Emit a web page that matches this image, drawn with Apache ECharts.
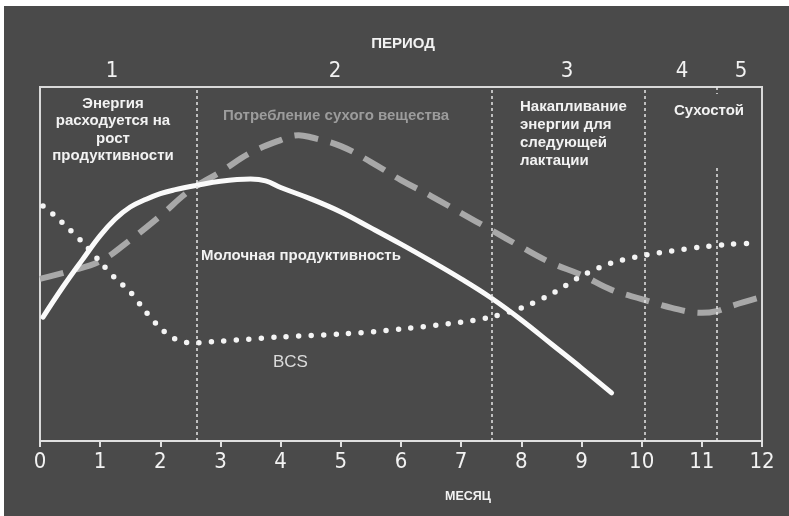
<!DOCTYPE html>
<html>
<head>
<meta charset="utf-8">
<script src="https://cdn.jsdelivr.net/npm/echarts@6/dist/echarts.min.js"></script>
<style>
  html, body { margin: 0; padding: 0; background: #fff; }
  #chart { width: 789px; height: 516px; }
</style>
</head>
<body>
<div id="chart"></div>
<script>
// months on x, relative level (0..100) on y
const monthTicks = [0, 1, 2, 3, 4, 5, 6, 7, 8, 9, 10, 11, 12]

const milkMonths = [0.05, 0.38, 0.7, 1, 1.25, 1.5, 1.75, 2, 2.25, 2.6, 3, 3.5, 3.75, 4, 4.5, 5, 5.5, 6, 6.5, 7, 7.5, 8, 8.5, 9, 9.5]
const milkValues = [35.0, 43.5, 51.1, 58.0, 62.7, 66.1, 68.2, 69.9, 71.0, 72.2, 73.4, 74.0, 73.5, 71.6, 68.4, 64.7, 60.2, 55.6, 50.8, 45.8, 40.4, 34.2, 27.4, 20.6, 13.6]

const dmiMonths = [0, 0.5, 1, 1.5, 2, 2.5, 3, 3.5, 4, 4.3, 4.5, 5, 5.5, 6, 6.5, 7, 7.5, 8, 8.5, 9, 9.5, 10, 10.5, 11, 11.25, 11.5, 12]
const dmiValues = [45.8, 48.0, 50.8, 56.8, 63.6, 70.9, 76.0, 81.4, 85.0, 86.4, 85.8, 83.3, 78.8, 73.7, 69.2, 64.4, 59.6, 54.8, 50.3, 46.9, 42.7, 40.1, 37.6, 36.2, 36.7, 38.2, 40.7]

const bcsMonths = [0.05, 0.25, 0.5, 0.75, 1, 1.25, 1.5, 1.75, 2, 2.25, 2.5, 3, 4, 5, 6, 7, 7.5, 8, 8.5, 9, 9.5, 10, 10.5, 11, 11.5, 11.85]
const bcsValues = [66.4, 63.6, 59.6, 55.4, 50.6, 46.0, 42.1, 36.7, 31.9, 28.8, 27.7, 28.2, 29.4, 30.2, 31.6, 33.6, 35.0, 37.6, 41.5, 46.6, 50.3, 52.3, 53.7, 54.8, 55.6, 55.9]

// period borders (months)
const periodBorders = [2.6, 7.5, 10.05]
const dryOffBorder = 11.25
const dryOffLineTop = 78
const periodLabels = ['1', '2', '3', '4', '5']

const bg = '#4a4a4a'
const fg = '#f2f2f2'
const boldFont = '"Liberation Sans", Arial, sans-serif'
const digitFont = '"DejaVu Sans Condensed", "DejaVu Sans", sans-serif'

const zip = (xs, ys) => xs.map((x, i) => [x, ys[i]])

const borderStyle = { color: '#e6e6e6', width: 1.5, type: [3, 3] }
const borderLines = periodBorders.map(m => ({ xAxis: m }))
borderLines.push([{ coord: [dryOffBorder, 0] }, { coord: [dryOffBorder, dryOffLineTop] }])
borderLines.push([{ coord: [dryOffBorder, 100] }, { coord: [dryOffBorder, 98] }])

const chart = echarts.init(document.getElementById('chart'))

const textStyleBold = (size, color) => ({ fontFamily: boldFont, fontWeight: 'bold', fontSize: size, fill: color })

chart.setOption({
  backgroundColor: bg,
  animation: false,
  grid: {
    left: 40,
    right: 27,
    top: 87,
    bottom: 75,
    show: true,
    borderColor: '#d9d9d9',
    borderWidth: 2,
    backgroundColor: 'transparent'
  },
  xAxis: {
    type: 'value',
    min: 0,
    max: 12,
    interval: 1,
    axisLine: { lineStyle: { color: '#e0e0e0', width: 2 } },
    axisTick: { length: 6, lineStyle: { color: '#e0e0e0', width: 2 } },
    axisLabel: {
      color: fg,
      fontFamily: digitFont,
      fontSize: 22,
      margin: 10,
      formatter: v => monthTicks.indexOf(v) >= 0 ? String(v) : ''
    },
    splitLine: { show: false }
  },
  yAxis: {
    type: 'value',
    min: 0,
    max: 100,
    show: false
  },
  series: [
    {
      name: 'Потребление сухого вещества',
      type: 'line',
      data: zip(dmiMonths, dmiValues),
      smooth: 0.4,
      symbol: 'none',
      lineStyle: { color: '#a8a8a8', width: 6, type: [24, 13], cap: 'butt' },
      z: 2,
      markLine: {
        silent: true,
        symbol: 'none',
        label: { show: false },
        lineStyle: borderStyle,
        data: borderLines
      }
    },
    {
      name: 'BCS',
      type: 'line',
      data: zip(bcsMonths, bcsValues),
      smooth: 0.3,
      symbol: 'none',
      lineStyle: { color: '#f4f4f4', width: 5.5, type: [0, 12.5], cap: 'round' },
      z: 3
    },
    {
      name: 'Молочная продуктивность',
      type: 'line',
      data: zip(milkMonths, milkValues),
      smooth: 0.4,
      symbol: 'none',
      lineStyle: { color: '#fafafa', width: 5, cap: 'round' },
      z: 4
    }
  ],
  graphic: [
    { type: 'rect', left: 0, top: 0, shape: { width: 789, height: 6 }, style: { fill: '#ffffff' } },
    { type: 'rect', left: 0, top: 0, shape: { width: 4, height: 516 }, style: { fill: '#ffffff' } },
    { type: 'text', x: 403, y: 44, style: Object.assign({ text: 'ПЕРИОД', align: 'center', verticalAlign: 'middle' }, textStyleBold(15, fg)) },
    { type: 'text', x: 468, y: 497, style: Object.assign({ text: 'МЕСЯЦ', align: 'center', verticalAlign: 'middle' }, textStyleBold(12.5, fg)) },
    ...[112, 335, 567, 682, 741].map((x, i) => ({
      type: 'text', x: x, y: 71,
      style: { text: periodLabels[i], align: 'center', verticalAlign: 'middle', fontFamily: digitFont, fontSize: 22, fill: fg }
    })),
    { type: 'text', x: 113, y: 130, style: Object.assign({ text: 'Энергия\nрасходуется на\nрост\nпродуктивности', align: 'center', verticalAlign: 'middle', lineHeight: 17.5 }, textStyleBold(15, fg)) },
    { type: 'text', x: 223, y: 116, style: Object.assign({ text: 'Потребление сухого вещества', align: 'left', verticalAlign: 'middle' }, textStyleBold(15, '#9c9c9c')) },
    { type: 'text', x: 201, y: 256, style: Object.assign({ text: 'Молочная продуктивность', align: 'left', verticalAlign: 'middle' }, textStyleBold(15, fg)) },
    { type: 'text', x: 273, y: 362, style: { text: 'BCS', align: 'left', verticalAlign: 'middle', fontFamily: boldFont, fontSize: 17, fill: '#dcdcdc' } },
    { type: 'text', x: 520, y: 134, style: Object.assign({ text: 'Накапливание\nэнергии для\nследующей\nлактации', align: 'left', verticalAlign: 'middle', lineHeight: 17.8 }, textStyleBold(15, fg)) },
    { type: 'text', x: 709, y: 111, style: Object.assign({ text: 'Сухостой', align: 'center', verticalAlign: 'middle' }, textStyleBold(15, fg)) }
  ]
})
</script>
</body>
</html>
